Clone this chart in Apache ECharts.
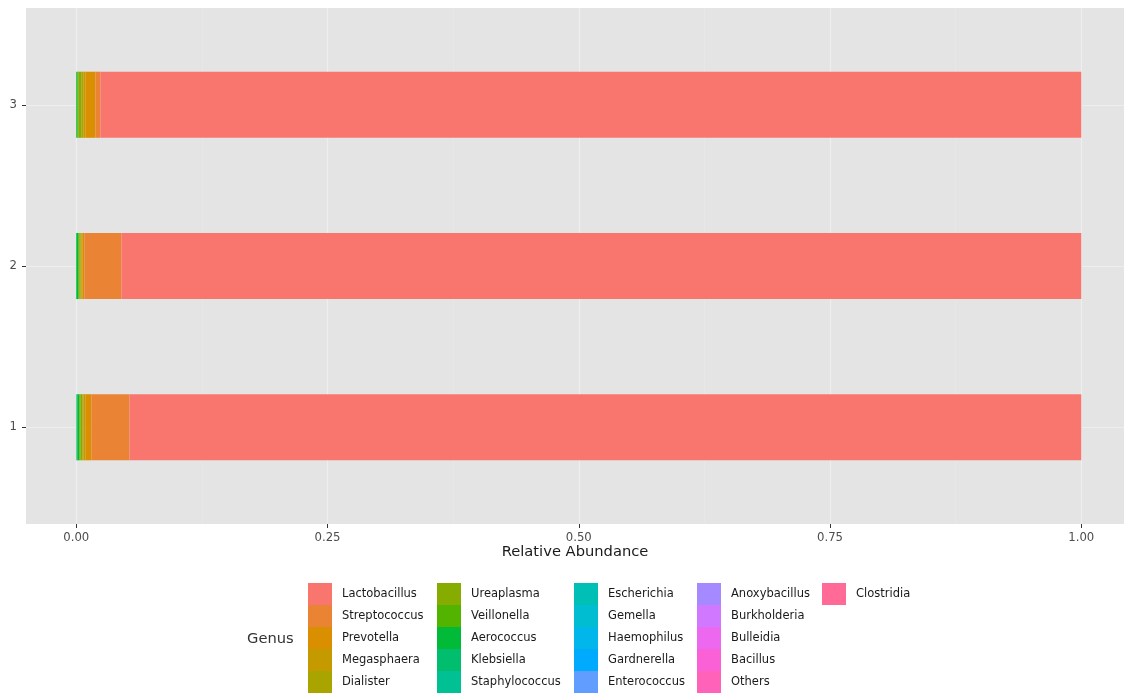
<!DOCTYPE html>
<html>
<head>
<meta charset="utf-8">
<title>Relative Abundance by Genus</title>
<script src="https://cdn.jsdelivr.net/npm/echarts/dist/echarts.min.js"></script>
<style>
  html, body { margin: 0; padding: 0; background: #ffffff; }
  #chart { width: 1124px; height: 695px; }
</style>
</head>
<body>
<div id="chart"></div>
<script>
// Samples on the y axis (bottom to top)
const samples = ['1', '2', '3'];

// Genus levels, in legend order
const genera = [
  'Lactobacillus', 'Streptococcus', 'Prevotella', 'Megasphaera', 'Dialister',
  'Ureaplasma', 'Veillonella', 'Aerococcus', 'Klebsiella', 'Staphylococcus',
  'Escherichia', 'Gemella', 'Haemophilus', 'Gardnerella', 'Enterococcus',
  'Anoxybacillus', 'Burkholderia', 'Bulleidia', 'Bacillus', 'Others', 'Clostridia'
];

// Relative abundance per sample, one value per genus (same order as genera)
const sample1 = [0.947, 0.038, 0.006, 0.002, 0.001, 0.002, 0.001, 0.002, 0.0005, 0.0005,
                 0, 0, 0, 0, 0, 0, 0, 0, 0, 0, 0];
const sample2 = [0.955, 0.037, 0.002, 0.001, 0.001, 0.001, 0.001, 0.002, 0, 0,
                 0, 0, 0, 0, 0, 0, 0, 0, 0, 0, 0];
const sample3 = [0.976, 0.005, 0.010, 0.002, 0.002, 0.003, 0.001, 0.001, 0, 0,
                 0, 0, 0, 0, 0, 0, 0, 0, 0, 0, 0];

// Axis tick values
const xTicks = [0, 0.25, 0.5, 0.75, 1];
const xMinorTicks = [0.125, 0.375, 0.625, 0.875];
const yTicks = [1, 2, 3];

// Evenly spaced hues in HCL space (L = 65, C = 100), like a default discrete palette
function hclToHex(h, c, l) {
  const Xn = 95.047, Yn = 100.0, Zn = 108.883;
  const hr = h * Math.PI / 180;
  const U = c * Math.cos(hr), V = c * Math.sin(hr);
  const Y = l > 8 ? Yn * Math.pow((l + 16) / 116, 3) : Yn * l / 903.3;
  const den = Xn + 15 * Yn + 3 * Zn;
  const un = 4 * Xn / den, vn = 9 * Yn / den;
  const u = U / (13 * l) + un, v = V / (13 * l) + vn;
  const X = 9 * Y * u / (4 * v);
  const Z = -X / 3 - 5 * Y + 3 * Y / v;
  const x = X / 100, y = Y / 100, z = Z / 100;
  const lin = [
    3.240479 * x - 1.537150 * y - 0.498535 * z,
    -0.969256 * x + 1.875992 * y + 0.041556 * z,
    0.055648 * x - 0.204043 * y + 1.057311 * z
  ];
  return '#' + lin.map(function (t) {
    let g = t <= 0.0031308 ? 12.92 * t : 1.055 * Math.pow(t, 1 / 2.4) - 0.055;
    g = Math.max(0, Math.min(1, g));
    return Math.round(g * 255).toString(16).padStart(2, '0');
  }).join('');
}
const palette = genera.map(function (_, i) {
  return hclToHex(15 + 360 * i / genera.length, 100, 65);
});

// Panel geometry: the panel runs to the right edge of the canvas, so the
// visible x range stops a little short of the full 5% padding on that side
const panel = { left: 26, top: 8, width: 1098, height: 516 };
const xMin = -0.05;
const xMax = xMin + panel.width / 1005;
// Discrete y scale is padded by 0.6 of a step on each side
const yPad = 0.6;
const step = panel.height / (samples.length - 1 + 2 * yPad);
const barGrid = {
  left: panel.left,
  width: panel.width,
  top: panel.top + step * (yPad - 0.5),
  height: step * samples.length
};

const FONT = 'DejaVu Sans';

// Stacked from zero: the last genus sits at the origin, Lactobacillus at the far end
const series = genera.map(function (g, i) {
  return {
    name: g,
    type: 'bar',
    stack: 'total',
    xAxisIndex: 2,
    yAxisIndex: 1,
    barWidth: '41%',
    itemStyle: { color: palette[i] },
    data: [sample1[i], sample2[i], sample3[i]]
  };
}).reverse();

// Legend laid out in columns of five
const legendCols = [308, 437, 574, 697, 822];
const legends = legendCols.map(function (left, k) {
  return {
    orient: 'vertical',
    left: left,
    top: 583,
    padding: 0,
    itemGap: 0,
    itemWidth: 24,
    itemHeight: 22,
    icon: 'rect',
    selectedMode: false,
    data: genera.slice(k * 5, k * 5 + 5),
    textStyle: { fontFamily: FONT, fontSize: 11.5, color: '#1a1a1a', padding: [0, 0, 0, 5] }
  };
});

const chart = echarts.init(document.getElementById('chart'), null, { renderer: 'canvas' });
chart.setOption({
  animation: false,
  backgroundColor: '#ffffff',
  textStyle: { fontFamily: FONT },
  title: {
    text: 'Genus',
    left: 247,
    top: 632,
    padding: 0,
    textStyle: { fontFamily: FONT, fontSize: 14.7, fontWeight: 'normal', color: '#333333' }
  },
  legend: legends,
  grid: [
    {
      left: panel.left, top: panel.top, width: panel.width, height: panel.height,
      show: true, backgroundColor: '#E4E4E4', borderWidth: 0
    },
    {
      left: barGrid.left, top: barGrid.top, width: barGrid.width, height: barGrid.height,
      show: false
    }
  ],
  xAxis: [
    {
      gridIndex: 0, type: 'value', min: xMin, max: xMax,
      axisLine: { show: false, onZero: false },
      axisTick: { show: true, customValues: xTicks, length: 4, lineStyle: { color: '#333333', width: 1 } },
      axisLabel: {
        customValues: xTicks, margin: 8, fontSize: 11.7, color: '#4D4D4D', fontFamily: FONT,
        formatter: function (v) { return v.toFixed(2); }
      },
      splitLine: { show: true, lineStyle: { color: '#EEEEEE', width: 1.1 } },
      name: 'Relative Abundance',
      nameLocation: 'middle',
      nameGap: 21,
      nameMoveOverlap: false,
      nameTextStyle: { fontFamily: FONT, fontSize: 14.7, color: '#1a1a1a' }
    },
    {
      gridIndex: 0, type: 'value', min: xMin, max: xMax,
      axisLine: { show: false, onZero: false },
      axisTick: { show: false, customValues: xMinorTicks },
      axisLabel: { show: false },
      splitLine: { show: true, lineStyle: { color: '#E9E9E9', width: 0.6 } }
    },
    {
      gridIndex: 1, type: 'value', min: xMin, max: xMax, show: false
    }
  ],
  yAxis: [
    {
      gridIndex: 0, type: 'value', min: 1 - yPad, max: samples.length + yPad,
      axisLine: { show: false, onZero: false },
      axisTick: { show: true, customValues: yTicks, length: 4, lineStyle: { color: '#333333', width: 1 } },
      axisLabel: {
        customValues: yTicks, margin: 9, fontSize: 11.7, color: '#4D4D4D', fontFamily: FONT,
        formatter: function (v) { return String(v); }
      },
      splitLine: { show: true, lineStyle: { color: '#EEEEEE', width: 1.1 } }
    },
    {
      gridIndex: 1, type: 'category', data: samples, show: false
    }
  ],
  series: series
});
</script>
</body>
</html>
